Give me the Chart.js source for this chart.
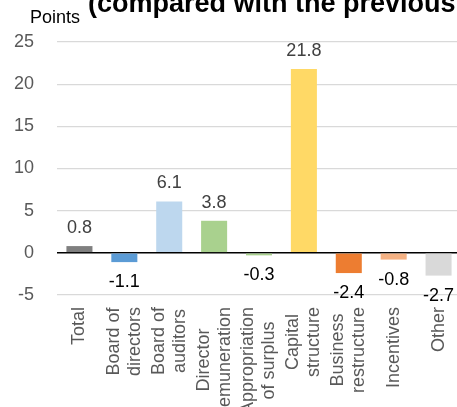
<!DOCTYPE html>
<html>
<head>
<meta charset="utf-8">
<script src="https://cdn.jsdelivr.net/npm/chart.js@4"></script>
<style>
  html, body { margin: 0; padding: 0; background: #fff; overflow: hidden; }
  #wrap { position: relative; width: 457px; height: 407px; overflow: hidden; }
</style>
</head>
<body>
<div id="wrap"><canvas id="chart" width="461" height="407"></canvas></div>
<script>
// chart data
const categories = [
  ['Total'],
  ['Board of', 'directors'],
  ['Board of', 'auditors'],
  ['Director', 'remuneration'],
  ['Appropriation', 'of surplus'],
  ['Capital', 'structure'],
  ['Business', 'restructure'],
  ['Incentives'],
  ['Other']
];
const values = [0.8, -1.1, 6.1, 3.8, -0.3, 21.8, -2.4, -0.8, -2.7];
const barColors = ['#7f7f7f', '#5b9bd5', '#bdd7ee', '#a9d18e', '#a9d18e',
                   '#ffd966', '#ed7d31', '#f4b183', '#d9d9d9'];
const yTicks = [-5, 0, 5, 10, 15, 20, 25];
const titleText = '(compared with the previous';
const unitText = 'Points';

const FONT = "'Liberation Sans', Arial, sans-serif";

// value labels, category labels (Excel style: lines centred), title text
const labelsPlugin = {
  id: 'labels',
  afterDatasetsDraw(chart) {
    const c = chart.ctx;
    const meta = chart.getDatasetMeta(0);
    c.save();
    c.font = '18px ' + FONT;
    c.textAlign = 'center';
    c.textBaseline = 'middle';
    meta.data.forEach(function(bar, i){
      const v = values[i];
      if(v >= 0){
        c.fillStyle = '#404040';
        c.fillText(v.toFixed(1), bar.x, bar.y - 18);
      } else {
        c.fillStyle = '#000';
        c.fillText(v.toFixed(1), bar.x, Math.max(bar.y, bar.base) + 20);
      }
    });
    c.restore();
  },
  afterDraw(chart) {
    const c = chart.ctx;
    const xs = chart.scales.x;
    const top = chart.chartArea.bottom + 12;
    const lh = 21;

    c.save();
    c.font = '18px ' + FONT;
    c.fillStyle = '#595959';
    c.textAlign = 'center';
    c.textBaseline = 'middle';
    categories.forEach(function(lines, i){
      const x = xs.getPixelForValue(i);
      const w = Math.max.apply(null, lines.map(l => c.measureText(l).width));
      c.save();
      c.translate(x, top + w / 2);
      c.rotate(-Math.PI / 2);
      lines.forEach(function(l, j){
        c.fillText(l, 0, (j - (lines.length - 1) / 2) * lh);
      });
      c.restore();
    });

    c.fillStyle = '#000';
    c.textBaseline = 'alphabetic';
    c.textAlign = 'left';
    c.font = 'bold 27px ' + FONT;
    c.fillText(titleText, 88, 12);
    c.font = '18px ' + FONT;
    c.fillText(unitText, 30, 23);
    c.restore();
  }
};

new Chart(document.getElementById('chart'), {
  type: 'bar',
  data: {
    labels: categories,
    datasets: [{
      data: values,
      backgroundColor: barColors,
      barPercentage: 0.58,
      categoryPercentage: 1.0
    }]
  },
  options: {
    responsive: false,
    animation: false,
    layout: { padding: { top: 42, right: 0, left: 0, bottom: 0 } },
    plugins: { legend: { display: false }, tooltip: { enabled: false }, title: { display: false } },
    scales: {
      x: {
        grid: { display: false },
        border: { display: false },
        ticks: { display: false },
        afterFit(scale){
          scale.height = 112;
          scale.paddingLeft = 0;
          scale.paddingRight = 0;
        }
      },
      y: {
        min: -5,
        max: 25,
        afterBuildTicks(scale){ scale.ticks = yTicks.map(v => ({ value: v })); },
        grid: {
          drawTicks: false,
          color: ctx => ctx.tick && ctx.tick.value === 0 ? '#000' : '#d9d9d9',
          lineWidth: ctx => ctx.tick && ctx.tick.value === 0 ? 1.5 : 1.2
        },
        border: { display: false },
        ticks: {
          color: '#595959',
          font: { family: FONT, size: 18 },
          padding: 23
        },
        afterFit(scale){ scale.width = 57; }
      }
    }
  },
  plugins: [labelsPlugin]
});
</script>
</body>
</html>
